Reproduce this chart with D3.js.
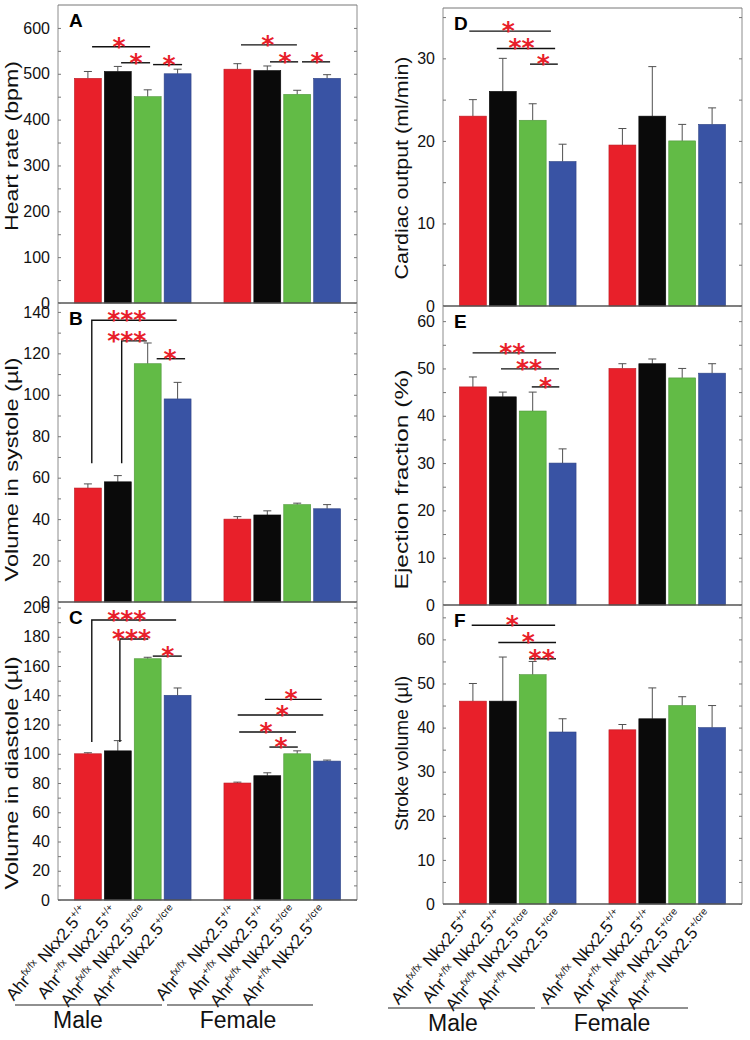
<!DOCTYPE html>
<html><head><meta charset="utf-8">
<script src="https://cdn.jsdelivr.net/npm/d3@7"></script>
<style>body{margin:0;background:#fff}svg{display:block}</style>
</head><body><svg id="chart" width="750" height="1040"></svg>
<script>
// ---------- data ----------
const sexes = ["Male", "Female"];
const ahrGenotypes = ["fx/fx", "+/fx", "fx/fx", "+/fx"];
const nkxGenotypes = ["+/+", "+/+", "+/cre", "+/cre"];
const barColors = ["#e8202a", "#0a0a0a", "#62bb46", "#3953a4"];

const heartRateMale = [490, 505, 450, 500];
const heartRateMaleSem = [15, 11, 15, 10];
const heartRateFemale = [510, 507, 455, 490];
const heartRateFemaleSem = [12, 10, 9, 8];
const heartRateTicks = [0, 100, 200, 300, 400, 500, 600];

const systoleMale = [55, 58, 115, 98];
const systoleMaleSem = [2, 3, 10, 8];
const systoleFemale = [40, 42, 47, 45];
const systoleFemaleSem = [1.2, 2, 0.7, 2];
const systoleTicks = [0, 20, 40, 60, 80, 100, 120, 140];

const diastoleMale = [100, 102, 165, 140];
const diastoleMaleSem = [0.7, 7, 1, 5];
const diastoleFemale = [80, 85, 100, 95];
const diastoleFemaleSem = [0.6, 2, 2, 0.7];
const diastoleTicks = [0, 20, 40, 60, 80, 100, 120, 140, 160, 180, 200];

const cardiacMale = [23, 26, 22.5, 17.5];
const cardiacMaleSem = [2, 4, 2, 2.1];
const cardiacFemale = [19.5, 23, 20, 22];
const cardiacFemaleSem = [2, 6, 2, 2];
const cardiacTicks = [0, 10, 20, 30];

const ejectionMale = [46.1, 44, 41, 30];
const ejectionMaleSem = [2.1, 1, 4, 3];
const ejectionFemale = [50, 51, 48, 49];
const ejectionFemaleSem = [1, 1, 2, 2];
const ejectionTicks = [0, 10, 20, 30, 40, 50, 60];

const strokeMale = [46, 46, 52, 39];
const strokeMaleSem = [4, 10, 3, 3];
const strokeFemale = [39.5, 42, 45, 40];
const strokeFemaleSem = [1.2, 7, 2, 5];
const strokeTicks = [0, 10, 20, 30, 40, 50, 60];

// significance brackets (x in bar-slot units, y in data units)
const heartRateSig = [
  {x1: 1.14, x2: 3.08, y: 559, sx: 2.04, s: "*"},
  {x1: 2.11, x2: 3.08, y: 524, sx: 2.61, s: "*"},
  {x1: 3.18, x2: 4.15, y: 520, sx: 3.71, s: "*"},
  {x1: 6.12, x2: 7.99, y: 563, sx: 7.02, s: "*"},
  {x1: 7.09, x2: 8.03, y: 526, sx: 7.59, s: "*"},
  {x1: 8.16, x2: 9.10, y: 526, sx: 8.66, s: "*"}
];
const systoleSig = [
  {x1: 1.13, x2: 3.97, y: 136, drop: 67, sx: 2.30, s: "***"},
  {x1: 2.13, x2: 2.97, y: 126, drop: 67, sx: 2.30, s: "***"},
  {x1: 3.30, x2: 4.25, y: 117.4, sx: 3.75, s: "*"}
];
const diastoleSig = [
  {x1: 1.13, x2: 3.95, y: 191.5, drop: 108, sx: 2.30, s: "***"},
  {x1: 2.07, x2: 3.02, y: 178.5, drop: 108, sx: 2.46, s: "***"},
  {x1: 3.17, x2: 4.14, y: 166.8, sx: 3.67, s: "*"},
  {x1: 6.92, x2: 8.82, y: 137.2, sx: 7.79, s: "*"},
  {x1: 6.01, x2: 8.87, y: 126.5, sx: 7.50, s: "*"},
  {x1: 6.06, x2: 7.96, y: 114.9, sx: 6.96, s: "*"},
  {x1: 7.07, x2: 8.02, y: 104.6, sx: 7.46, s: "*"}
];
const cardiacSig = [
  {x1: 0.88, x2: 3.61, y: 33.3, sx: 2.18, s: "*"},
  {x1: 1.80, x2: 3.75, y: 31.2, sx: 2.63, s: "**"},
  {x1: 2.91, x2: 3.84, y: 29.3, sx: 3.35, s: "*"}
];
const ejectionSig = [
  {x1: 0.99, x2: 3.78, y: 53.3, sx: 2.32, s: "**"},
  {x1: 1.94, x2: 3.88, y: 49.9, sx: 2.88, s: "**"},
  {x1: 2.97, x2: 3.89, y: 46.1, sx: 3.43, s: "*"}
];
const strokeSig = [
  {x1: 0.96, x2: 3.75, y: 63.2, sx: 2.32, s: "*"},
  {x1: 1.85, x2: 3.78, y: 59.3, sx: 2.85, s: "*"},
  {x1: 2.88, x2: 3.78, y: 55.6, sx: 3.30, s: "**"}
];

// ---------- layout ----------
const FONT = "'Liberation Sans', Arial, Helvetica, sans-serif";
const panels = [
  {letter: "A", label: "Heart rate (bpm)", x0: 58, top: 5, bottom: 303, max: 650, ticks: heartRateTicks, minor: 50,
   male: heartRateMale, maleSem: heartRateMaleSem, female: heartRateFemale, femaleSem: heartRateFemaleSem, sig: heartRateSig,
   labelX: 12, labelDy: -8, labelLen: 170, topLine: true},
  {letter: "B", label: "Volume in systole (\u00b5l)", x0: 58, top: 303, bottom: 602, max: 144.3, ticks: systoleTicks, minor: 10,
   male: systoleMale, maleSem: systoleMaleSem, female: systoleFemale, femaleSem: systoleFemaleSem, sig: systoleSig,
   labelX: 12, labelDy: 17, labelLen: 224},
  {letter: "C", label: "Volume in diastole (\u00b5l)", x0: 58, top: 602, bottom: 900, max: 203.8, ticks: diastoleTicks, minor: 10,
   male: diastoleMale, maleSem: diastoleMaleSem, female: diastoleFemale, femaleSem: diastoleFemaleSem, sig: diastoleSig,
   labelX: 12, labelDy: 22, labelLen: 233},
  {letter: "D", label: "Cardiac output (ml/min)", x0: 443, top: 8, bottom: 306, max: 36.1, ticks: cardiacTicks, minor: 5,
   male: cardiacMale, maleSem: cardiacMaleSem, female: cardiacFemale, femaleSem: cardiacFemaleSem, sig: cardiacSig,
   labelX: 402, labelDy: 11, labelLen: 223, topLine: true},
  {letter: "E", label: "Ejection fraction (%)", x0: 443, top: 306, bottom: 605, max: 63.2, ticks: ejectionTicks, minor: 5,
   male: ejectionMale, maleSem: ejectionMaleSem, female: ejectionFemale, femaleSem: ejectionFemaleSem, sig: ejectionSig,
   labelX: 402, labelDy: 24, labelLen: 220},
  {letter: "F", label: "Stroke volume (\u00b5l)", x0: 443, top: 605, bottom: 904, max: 67.8, ticks: strokeTicks, minor: 5,
   male: strokeMale, maleSem: strokeMaleSem, female: strokeFemale, femaleSem: strokeFemaleSem, sig: strokeSig,
   labelX: 402, labelDy: -1, labelLen: 155}
];
const PW = 299;

const svg = d3.select("#chart");
svg.append("rect").attr("width", 750).attr("height", 1040).attr("fill", "#fff");

panels.forEach(p => {
  const x = d3.scaleLinear().domain([0, 10]).range([p.x0, p.x0 + PW]);
  const y = d3.scaleLinear().domain([0, p.max]).range([p.bottom, p.top]);
  const g = svg.append("g");

  const bars = [];
  p.male.forEach((v, i) => bars.push({slot: i + 1, v, e: p.maleSem[i], c: barColors[i]}));
  p.female.forEach((v, i) => bars.push({slot: i + 6, v, e: p.femaleSem[i], c: barColors[i]}));

  // error bars (upper only)
  const eb = g.selectAll("g.err").data(bars).join("g").attr("stroke", "#505050").attr("stroke-width", 1);
  eb.append("line").attr("x1", d => x(d.slot)).attr("x2", d => x(d.slot))
    .attr("y1", d => y(d.v)).attr("y2", d => y(d.v + d.e));
  eb.append("line").attr("x1", d => x(d.slot) - 4).attr("x2", d => x(d.slot) + 4)
    .attr("y1", d => y(d.v + d.e)).attr("y2", d => y(d.v + d.e));

  g.selectAll("rect.bar").data(bars).join("rect")
    .attr("x", d => x(d.slot - 0.45)).attr("width", x(0.9) - x(0))
    .attr("y", d => y(d.v)).attr("height", d => y(0) - y(d.v))
    .attr("fill", d => d.c).attr("stroke", d => d3.color(d.c).darker(0.6)).attr("stroke-width", 0.6);

  // frame
  g.append("line").attr("x1", p.x0).attr("x2", p.x0).attr("y1", p.top).attr("y2", p.bottom).attr("stroke", "#8c8c8c");
  g.append("line").attr("x1", p.x0 + PW).attr("x2", p.x0 + PW).attr("y1", p.top).attr("y2", p.bottom).attr("stroke", "#8c8c8c");
  if (p.topLine) g.append("line").attr("x1", p.x0).attr("x2", p.x0 + PW).attr("y1", p.top).attr("y2", p.top).attr("stroke", "#777");
  g.append("line").attr("x1", p.x0).attr("x2", p.x0 + PW).attr("y1", p.bottom).attr("y2", p.bottom).attr("stroke", "#555").attr("stroke-width", 1.3);

  // axes
  const minorVals = d3.range(p.minor, p.max, p.minor * 2);
  const left = g.append("g").attr("transform", `translate(${p.x0},0)`)
    .call(d3.axisLeft(y).tickValues(p.ticks).tickSize(-3).tickPadding(8));
  left.select(".domain").remove();
  left.selectAll("text").attr("font-family", FONT).attr("font-size", 16).attr("fill", "#111");
  left.selectAll("line").attr("stroke", "#777");
  const leftMinor = g.append("g").attr("transform", `translate(${p.x0},0)`)
    .call(d3.axisLeft(y).tickValues(minorVals).tickSize(-3).tickFormat(""));
  leftMinor.select(".domain").remove();
  leftMinor.selectAll("line").attr("stroke", "#777");
  const right = g.append("g").attr("transform", `translate(${p.x0 + PW},0)`)
    .call(d3.axisRight(y).tickValues(p.ticks.concat(minorVals)).tickSize(-3).tickFormat(""));
  right.select(".domain").remove();
  right.selectAll("line").attr("stroke", "#777");

  // panel letter
  g.append("text").attr("x", p.x0 + 11).attr("y", p.top + 22).text(p.letter)
    .attr("font-family", FONT).attr("font-weight", "bold").attr("font-size", 19).attr("fill", "#000");

  // y label
  const cy = (p.top + p.bottom) / 2 + p.labelDy;
  g.append("text").attr("transform", `translate(${p.labelX},${cy}) rotate(-90)`)
    .attr("text-anchor", "middle").attr("dominant-baseline", "central")
    .attr("font-family", FONT).attr("font-size", 18).attr("fill", "#111")
    .attr("textLength", p.labelLen).attr("lengthAdjust", "spacingAndGlyphs")
    .text(p.label);

  // significance
  p.sig.forEach(s => {
    if (s.drop !== undefined) {
      g.append("path").attr("d", `M${x(s.x1)},${y(s.drop)}V${y(s.y)}H${x(s.x2)}`)
        .attr("fill", "none").attr("stroke", "#111").attr("stroke-width", 1.4);
    } else {
      g.append("line").attr("x1", x(s.x1)).attr("x2", x(s.x2)).attr("y1", y(s.y)).attr("y2", y(s.y))
        .attr("stroke", "#111").attr("stroke-width", 1.4);
    }
    g.append("text").attr("x", x(s.sx)).attr("y", y(s.y) + 8).attr("text-anchor", "middle")
      .attr("font-family", "'DejaVu Sans', sans-serif").attr("font-weight", "bold").attr("font-size", 25)
      .attr("fill", "#e8202a").text(s.s);
  });

  // x labels (only for bottom panels)
  if (p.letter === "C" || p.letter === "F") {
    bars.forEach(b => {
      const gi = (b.slot - 1) % 5;
      const t = g.append("text")
        .attr("transform", `translate(${x(b.slot) + 1},${p.bottom + 12}) rotate(-50)`)
        .attr("text-anchor", "end").attr("font-family", FONT).attr("font-size", 17).attr("fill", "#111");
      t.append("tspan").text("Ahr");
      t.append("tspan").attr("font-size", 10).attr("dy", -7).text(ahrGenotypes[gi]);
      t.append("tspan").attr("dy", 7).text(" Nkx2.5");
      t.append("tspan").attr("font-size", 10).attr("dy", -7).text(nkxGenotypes[gi]);
    });
  }
});

// sex group lines and labels
const sexLayout = [
  {x0: 58, ly: 1005, ty: 1028, lines: [[-43, 104], [109, 255]], tx: [20, 180]},
  {x0: 443, ly: 1008, ty: 1031, lines: [[-55, 92], [98, 245]], tx: [10, 169]}
];
sexLayout.forEach(c => {
  sexes.forEach((s, i) => {
    svg.append("line").attr("x1", c.x0 + c.lines[i][0]).attr("x2", c.x0 + c.lines[i][1])
      .attr("y1", c.ly).attr("y2", c.ly).attr("stroke", "#222").attr("stroke-width", 1.2);
    svg.append("text").attr("x", c.x0 + c.tx[i]).attr("y", c.ty).attr("text-anchor", "middle")
      .attr("font-family", FONT).attr("font-size", 23).attr("fill", "#111").text(s);
  });
});
</script></body></html>
